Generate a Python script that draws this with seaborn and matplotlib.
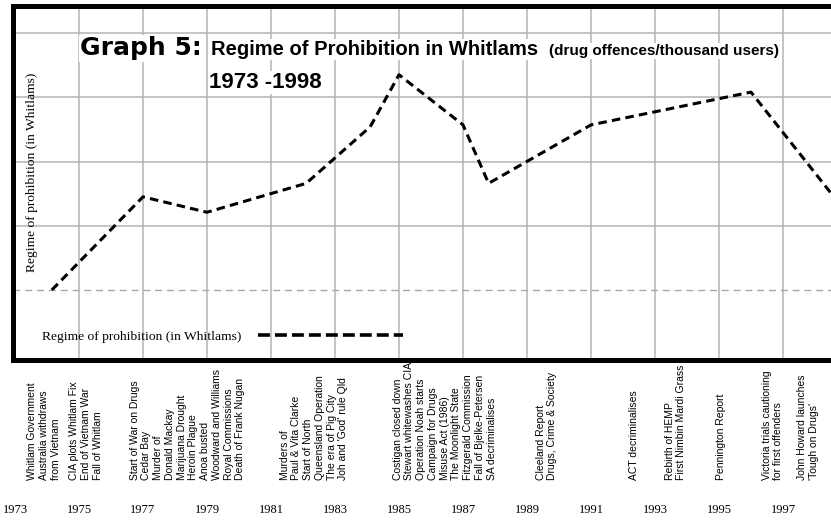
import matplotlib
matplotlib.use("Agg")
import matplotlib.pyplot as plt
from matplotlib.lines import Line2D
import pandas as pd
import seaborn as sns

W, H = 831, 527

# Vertices of the dashed line (year, regime in Whitlams)
years = [1974.15, 1977.0, 1979.0, 1982.1, 1984.1, 1985.0, 1987.0, 1987.8, 1991.0, 1996.0, 1998.75]
regime = [0.0, 1.45, 1.21, 1.66, 2.54, 3.35, 2.57, 1.66, 2.57, 3.08, 1.35]

tick_years = list(range(1973, 1998, 2))
grid_levels = [1, 2, 3, 4]

events = [
    "Whitlam Government\nAustralia withdraws\nfrom Vietnam",
    "CIA plots Whitlam Fix\nEnd of Vietnam War\nFall of Whitlam",
    "Start of War on Drugs\nCedar Bay\nMurder of\nDonald Mackay\nMarijuana Drought\n"
    "Heroin Plague\nAnoa busted\nWoodward and Williams\nRoyal Commissions\nDeath of Frank Nugan",
    "Murders of\nPaul & Vita Clarke\nStart of North\nQueensland Operation\n"
    "The era of Pig City\nJoh and 'God' rule Qld",
    "Costigan closed down\nStewart whitewashes CIA\nOperation Noah starts\nCampaign for Drugs\n"
    "Misuse Act (1986)\nThe Moonlight State\nFitzgerald Commission\nFall of Bjelke-Petersen\nSA decriminalises",
    "Cleeland Report\nDrugs, Crime & Society",
    "ACT decriminalises",
    "Rebirth of HEMP\nFirst Nimbin Mardi Grass",
    "Pennington Report",
    "Victoria trials cautioning\nfor first offenders",
    "John Howard launches\n'Tough on Drugs'",
]
# left edge of each rotated annotation block, in years
event_x = [1973.39, 1974.70, 1976.58, 1981.27, 1984.80, 1989.27, 1992.20, 1993.30, 1994.92, 1996.33, 1997.45]

SERIF = ["Liberation Serif", "DejaVu Serif"]
SANS = ["Liberation Sans", "DejaVu Sans"]


def px(x, y):
    """Pixel position (from top-left) to figure fraction."""
    return x / W, 1 - y / H


sns.set_style("white")
plt.rcParams.update({"text.color": "black", "xtick.color": "black", "ytick.color": "black"})
fig = plt.figure(figsize=(W / 100, H / 100), dpi=100)

# plot box in pixels; the right edge runs off the picture
left, right, top, bottom = 12.5, 840, 5.5, 360
ax = fig.add_axes([left / W, 1 - bottom / H, (right - left) / W, (bottom - top) / H])

df = pd.DataFrame({"year": years, "regime": regime})
sns.lineplot(data=df, x="year", y="regime", ax=ax, color="black", lw=2.2,
             estimator=None, sort=False, legend=False, zorder=3)
ax.lines[0].set_dashes([2.8, 1.7])

ax.set_xlim(1973 - 2.5 / 32, 1973 + (right - 15) / 32)
ax.set_ylim((290 - bottom) / 64.25, (290 - top) / 64.25)

ax.set_xticks(tick_years)
ax.set_xticklabels(tick_years, fontfamily=SERIF, fontsize=9)
ax.set_yticks(grid_levels)
ax.set_yticklabels([])
ax.tick_params(axis="x", length=0, pad=104)
ax.tick_params(axis="y", length=0)
ax.set_xlabel("")
ax.set_ylabel("")

ax.grid(True, color="#b4b4b4", lw=1.1)
ax.set_axisbelow(True)
ax.axhline(0, color="#a8a8a8", lw=1.0, dashes=(5, 3.5), zorder=1)

for side in ["left", "top", "bottom"]:
    ax.spines[side].set_linewidth(3.6)
    ax.spines[side].set_color("black")
ax.spines["right"].set_visible(False)

# legend: text first, long thick dashed sample after it
handle = Line2D([], [], color="black", lw=2.6, dashes=(3.3, 1.4))
ax.legend([handle], ["Regime of prohibition (in Whitlams)"], loc="center left",
          bbox_to_anchor=(0.0356, 0.065), frameon=False, markerfirst=False,
          handlelength=10.8, handletextpad=1.2, borderaxespad=0, borderpad=0,
          prop={"family": SERIF, "size": 9.7})

fig.text(*px(32, 172), "Regime of prohibition (in Whitlams)", rotation=90,
         ha="center", va="center", fontfamily=SERIF, fontsize=9.7)

# title pieces
box = dict(facecolor="white", edgecolor="none", pad=1)
fig.text(*px(80, 55), "Graph 5:", fontfamily=["DejaVu Sans"], fontweight="bold",
         fontsize=18, va="baseline", bbox=box)
fig.text(*px(211, 55), "Regime of Prohibition in Whitlams", fontfamily=SANS,
         fontweight="bold", fontsize=14.5, va="baseline", bbox=box)
fig.text(*px(549, 55), "(drug offences/thousand users)", fontfamily=SANS,
         fontweight="bold", fontsize=11, va="baseline", bbox=box)
fig.text(*px(209, 88), "1973 -1998", fontfamily=SANS, fontweight="bold",
         fontsize=16, va="baseline", bbox=box)

# event notes under the axis, rotated, bottoms aligned
text_bottom = (bottom - 480) / (bottom - top)
for label, x in zip(events, event_x):
    ax.text(x, text_bottom, label, transform=ax.get_xaxis_transform(), rotation=90,
            ha="left", va="bottom", multialignment="left", linespacing=1.22,
            fontfamily=SANS, fontsize=7.5, clip_on=False)

fig.savefig("out.png", dpi=100)
